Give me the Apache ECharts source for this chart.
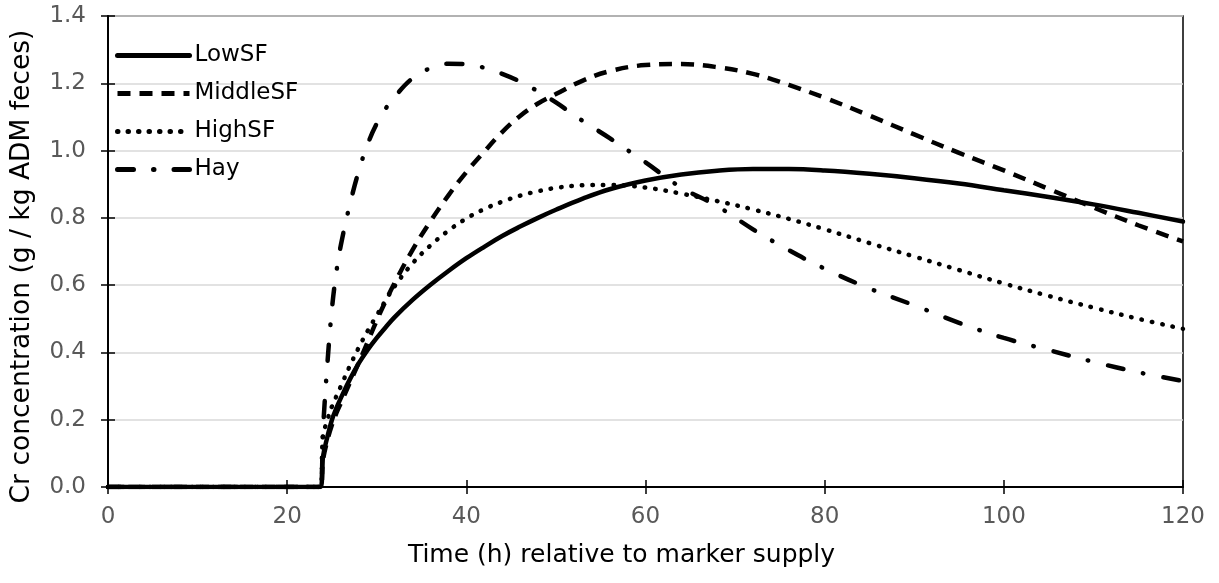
<!DOCTYPE html>
<html lang="en">
<head>
<meta charset="utf-8">
<title>Cr concentration</title>
<script src="https://cdn.jsdelivr.net/npm/echarts@6/dist/echarts.min.js"></script>
<style>
  html, body { margin: 0; padding: 0; background: #fff; }
</style>
</head>
<body>
	<div id="main" style="width: 1219px;height:583px;"></div>
	<script type="text/javascript">
		// hours after marker supply
		var hours = [0, 23.7, 24, 24.5, 25, 25.5, 26, 27, 28, 29, 30, 31, 32, 34, 36, 38, 40, 42, 44, 46, 48, 50,
			53, 56, 60, 64, 68, 72, 76, 80, 85, 90, 95, 100, 105, 110, 115, 120];

		var lowSF = [0, 0, 0.09, 0.15, 0.20, 0.235, 0.265, 0.32, 0.368, 0.408, 0.443, 0.475, 0.505, 0.556, 0.601, 0.642, 0.68, 0.714, 0.746, 0.774, 0.80, 0.824,
			0.857, 0.885, 0.911, 0.929, 0.94, 0.945, 0.945, 0.941, 0.931, 0.918, 0.902, 0.882, 0.862, 0.84, 0.815, 0.789];

		var middleSF = [0, 0, 0.08, 0.14, 0.185, 0.22, 0.25, 0.31, 0.37, 0.432, 0.495, 0.553, 0.607, 0.705, 0.79, 0.867, 0.936, 0.997, 1.055, 1.103, 1.14, 1.168,
			1.208, 1.236, 1.254, 1.257, 1.248, 1.228, 1.195, 1.157, 1.104, 1.048, 0.993, 0.941, 0.886, 0.831, 0.778, 0.73];

		var highSF = [0, 0, 0.15, 0.20, 0.24, 0.27, 0.30, 0.36, 0.415, 0.465, 0.51, 0.555, 0.597, 0.665, 0.718, 0.762, 0.798, 0.826, 0.848, 0.866, 0.879, 0.889,
			0.897, 0.898, 0.89, 0.872, 0.85, 0.825, 0.797, 0.766, 0.725, 0.685, 0.645, 0.605, 0.568, 0.533, 0.50, 0.47];

		var hay = [0, 0, 0.17, 0.37, 0.53, 0.64, 0.72, 0.84, 0.94, 1.02, 1.08, 1.125, 1.16, 1.215, 1.245, 1.258, 1.257, 1.246, 1.228, 1.205, 1.176, 1.143,
			1.088, 1.037, 0.965, 0.89, 0.835, 0.766, 0.704, 0.649, 0.59, 0.54, 0.488, 0.443, 0.407, 0.372, 0.341, 0.315];

		var xTicks = [0, 20, 40, 60, 80, 100, 120];
		var yTicks = [0, 0.2, 0.4, 0.6, 0.8, 1.0, 1.2, 1.4];

		function pairs(ys) {
			return hours.map(function (h, i) { return [h, ys[i]]; });
		}

		var font = 'DejaVu Sans, Verdana, sans-serif';

		function makeSeries(name, ys, dash, cap) {
			return {
				name: name,
				type: 'line',
				data: pairs(ys),
				symbol: 'none',
				smooth: 0.4,
				lineStyle: { color: '#000', width: 4.5, type: dash, cap: cap },
				itemStyle: { color: '#000' }
			};
		}

		var myChart = echarts.init(document.getElementById('main'));
		var option = {
			animation: false,
			textStyle: { fontFamily: font },
			grid: {
				left: 108, right: 36, top: 16, bottom: 96,
				show: true, borderColor: '#000', borderWidth: 1.5
			},
			legend: {
				orient: 'vertical',
				left: 110, top: 39,
				itemWidth: 72, itemHeight: 24, itemGap: 15,
				itemStyle: { color: 'transparent', borderColor: 'transparent', borderWidth: 0 },
				lineStyle: { width: 5 },
				textStyle: { fontSize: 23, color: '#000', fontFamily: font },
				data: ['LowSF', 'MiddleSF', 'HighSF', 'Hay']
			},
			xAxis: [
				{
					type: 'value', min: 0, max: 120, interval: 20,
					name: 'Time (h) relative to marker supply',
					nameLocation: 'middle', nameGap: 56,
					nameTextStyle: { fontSize: 25, color: '#000', padding: [0, 48, 0, 0] },
					axisLine: { lineStyle: { color: '#000', width: 2 } },
					axisTick: { show: true, length: 7, lineStyle: { color: '#000', width: 1.5 } },
					axisLabel: { fontSize: 23, color: '#595959', margin: 19,
						formatter: function (v) { return xTicks.indexOf(v) >= 0 ? String(v) : ''; } },
					splitLine: { show: false }
				},
				{
					type: 'value', min: 0, max: 120, interval: 20, position: 'bottom',
					axisLine: { show: false },
					axisTick: { show: true, inside: true, length: 7, lineStyle: { color: '#000', width: 1.5 } },
					axisLabel: { show: false },
					splitLine: { show: false }
				}
			],
			yAxis: [
				{
					type: 'value', min: 0, max: 1.4, interval: 0.2,
					name: 'Cr concentration (g / kg ADM feces)',
					nameLocation: 'middle', nameGap: 72,
					nameTextStyle: { fontSize: 26.5, color: '#000', padding: [0, 30, 0, 0] },
					axisLine: { show: true, lineStyle: { color: '#000', width: 2 } },
					axisTick: { show: true, length: 7, lineStyle: { color: '#000', width: 1.5 } },
					axisLabel: { fontSize: 23, color: '#595959', margin: 22,
						formatter: function (v) {
							var i = Math.round(v / 0.2);
							return yTicks[i] !== undefined ? yTicks[i].toFixed(1) : '';
						} },
					splitLine: { show: true, lineStyle: { color: '#d9d9d9', width: 1.5 } }
				},
				{
					type: 'value', min: 0, max: 1.4, interval: 0.2, position: 'left',
					axisLine: { show: false },
					axisTick: { show: true, inside: true, length: 7, lineStyle: { color: '#000', width: 1.5 } },
					axisLabel: { show: false },
					splitLine: { show: false }
				}
			],
			series: [
				makeSeries('LowSF', lowSF, 'solid', 'round'),
				makeSeries('MiddleSF', middleSF, [13, 9], 'butt'),
				makeSeries('HighSF', highSF, [0.5, 10], 'round'),
				makeSeries('Hay', hay, [16, 20, 0.5, 20], 'round')
			]
		};

		myChart.setOption(option);
	</script>
</body>
</html>
